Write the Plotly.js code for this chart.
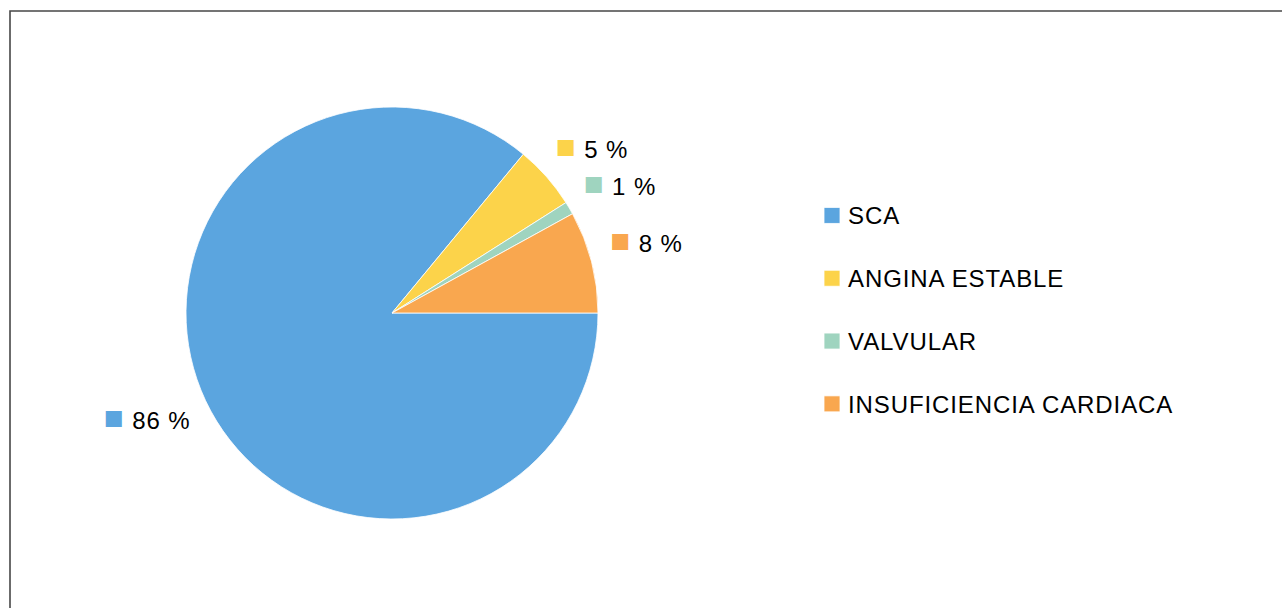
<!DOCTYPE html>
<html>
<head>
<meta charset="utf-8">
<script src="https://cdn.plot.ly/plotly-3.0.1.min.js"></script>
<style>
  html, body { margin: 0; padding: 0; background: #ffffff; }
  #chart { width: 1282px; height: 608px; }
  .legendtext, .slicetext { letter-spacing: 0.9px; }
  #chart path.textline { display: none; }
</style>
</head>
<body>
<div id="chart"></div>
<script>
// Data
var categories = ["SCA", "ANGINA ESTABLE", "VALVULAR", "INSUFICIENCIA CARDIACA"];
var percentValues = [86, 5, 1, 8];
var sliceColors = ["#5ba5df", "#fcd34a", "#9fd4bf", "#f9a74f"];
// extra blank line (and its size) used only to nudge each outside label vertically
var labelPad = ["before", "none", "after", "after"];
var padSize = [24, 24, 18, 30];

var legendLabels = categories.map(function (c) {
  return '<span style="font-size:24px">' + c + '</span><br>&nbsp;';
});
var textTemplates = sliceColors.map(function (c, i) {
  var t = '<span style="color:' + c + ';font-size:33px">\u25A0</span>' +
          '<span style="font-size:24px"> %{value} %</span>';
  if (labelPad[i] === 'before') t = '&nbsp;<br>' + t;
  if (labelPad[i] === 'after') t = t + '<br>&nbsp;';
  return t;
});

var trace = {
  type: 'pie',
  labels: legendLabels,
  values: percentValues,
  sort: false,
  direction: 'clockwise',
  rotation: 90,
  marker: { colors: sliceColors, line: { color: '#ffffff', width: 0.8 } },
  texttemplate: textTemplates,
  textposition: 'outside',
  outsidetextfont: { family: 'Liberation Sans, Arial, sans-serif', size: padSize, color: '#000000' },
  hoverinfo: 'skip',
  domain: { x: [186 / 1282, 598 / 1282], y: [89 / 608, 501 / 608] }
};

var layout = {
  width: 1282,
  height: 608,
  margin: { l: 0, r: 0, t: 0, b: 0, pad: 0 },
  paper_bgcolor: '#ffffff',
  font: { family: 'Liberation Sans, Arial, sans-serif', color: '#000000' },
  showlegend: true,
  legend: {
    x: 808 / 1282, xanchor: 'left',
    y: 1 - 194 / 608, yanchor: 'top',
    valign: 'top',
    bgcolor: 'rgba(0,0,0,0)',
    borderwidth: 0,
    font: { family: 'Liberation Sans, Arial, sans-serif', size: 23, color: '#000000' }
  },
  shapes: [{
    type: 'rect', xref: 'paper', yref: 'paper', layer: 'above',
    x0: 10 / 1282, x1: 1.02, y0: -0.02, y1: 1 - 11 / 608,
    line: { color: '#474747', width: 1.6 },
    fillcolor: 'rgba(0,0,0,0)'
  }]
};

Plotly.newPlot('chart', [trace], layout, { displayModeBar: false, staticPlot: true }).then(function () {
  // enlarge the legend swatches to match the reference (16px squares)
  document.querySelectorAll('#chart path.legendpie').forEach(function (p) {
    p.setAttribute('d', 'M12,8H-4V-8H12Z');
  });
});
</script>
</body>
</html>
